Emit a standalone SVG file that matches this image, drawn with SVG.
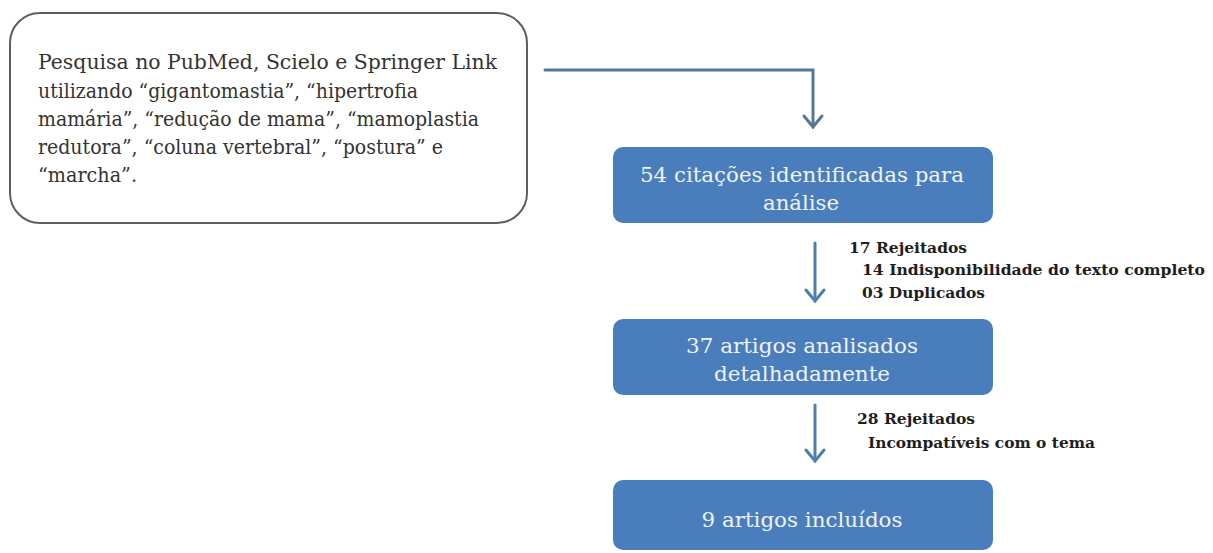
<svg xmlns="http://www.w3.org/2000/svg" width="1213" height="553" viewBox="0 0 1213 553">
  <style>
    .src { fill: #ffffff; stroke: #5e5e5e; stroke-width: 2; }
    .srctxt { font-family: "DejaVu Serif", "Liberation Serif", serif; font-size: 20.5px; fill: #333333; }
    .blue { fill: #4a7dbb; }
    .btxt { font-family: "DejaVu Serif", "Liberation Serif", serif; font-size: 20.5px; fill: #eef3fa; text-anchor: middle; }
    .lbl { font-family: "DejaVu Serif", "Liberation Serif", serif; font-size: 15px; font-weight: bold; fill: #1e1e1e; }
    .conn { fill: none; stroke: #4f7ea8; stroke-width: 3; stroke-linecap: round; stroke-linejoin: miter; }
    .elbow { stroke: #557896; }
  </style>
  <rect width="1213" height="553" fill="#ffffff"/>

  <g id="connectors">
    <path class="conn elbow" d="M545,70 H813 V127"/>
    <path class="conn elbow" d="M804,116 L813,127 L822,116"/>
    <path class="conn" d="M815,243 V301"/>
    <path class="conn" d="M806,290 L815,301 L824,290"/>
    <path class="conn" d="M815,405 V461"/>
    <path class="conn" d="M806,450 L815,461 L824,450"/>
  </g>

  <g id="node-search">
    <rect class="src" x="10" y="13" width="517" height="210" rx="30" ry="30"/>
    <text class="srctxt" x="38" y="69" textLength="459" lengthAdjust="spacingAndGlyphs">Pesquisa no PubMed, Scielo e Springer Link</text>
    <text class="srctxt" x="38" y="98" textLength="380" lengthAdjust="spacingAndGlyphs">utilizando “gigantomastia”, “hipertrofia</text>
    <text class="srctxt" x="38" y="126" textLength="441" lengthAdjust="spacingAndGlyphs">mamária”, “redução de mama”, “mamoplastia</text>
    <text class="srctxt" x="38" y="154" textLength="405" lengthAdjust="spacingAndGlyphs">redutora”, “coluna vertebral”, “postura” e</text>
    <text class="srctxt" x="38" y="182" textLength="99" lengthAdjust="spacingAndGlyphs">“marcha”.</text>
  </g>

  <g id="node-citacoes">
    <rect class="blue" x="613" y="147" width="380" height="76" rx="10" ry="10"/>
    <text class="btxt" x="802" y="182" textLength="324" lengthAdjust="spacingAndGlyphs">54 citações identificadas para</text>
    <text class="btxt" x="801" y="210" textLength="76" lengthAdjust="spacingAndGlyphs">análise</text>
  </g>

  <g id="label-rejeitados-17">
    <text class="lbl" x="849" y="253" textLength="118" lengthAdjust="spacingAndGlyphs">17 Rejeitados</text>
    <text class="lbl" x="862" y="275" textLength="343" lengthAdjust="spacingAndGlyphs">14 Indisponibilidade do texto completo</text>
    <text class="lbl" x="862" y="298" textLength="123" lengthAdjust="spacingAndGlyphs">03 Duplicados</text>
  </g>

  <g id="node-analisados">
    <rect class="blue" x="613" y="319" width="380" height="76" rx="10" ry="10"/>
    <text class="btxt" x="802" y="353" textLength="232" lengthAdjust="spacingAndGlyphs">37 artigos analisados</text>
    <text class="btxt" x="802" y="381" textLength="176" lengthAdjust="spacingAndGlyphs">detalhadamente</text>
  </g>

  <g id="label-rejeitados-28">
    <text class="lbl" x="857" y="424" textLength="118" lengthAdjust="spacingAndGlyphs">28 Rejeitados</text>
    <text class="lbl" x="868" y="448" textLength="227" lengthAdjust="spacingAndGlyphs">Incompatíveis com o tema</text>
  </g>

  <g id="node-incluidos">
    <rect class="blue" x="613" y="480" width="380" height="70" rx="10" ry="10"/>
    <text class="btxt" x="802" y="527" textLength="201" lengthAdjust="spacingAndGlyphs">9 artigos incluídos</text>
  </g>
</svg>
